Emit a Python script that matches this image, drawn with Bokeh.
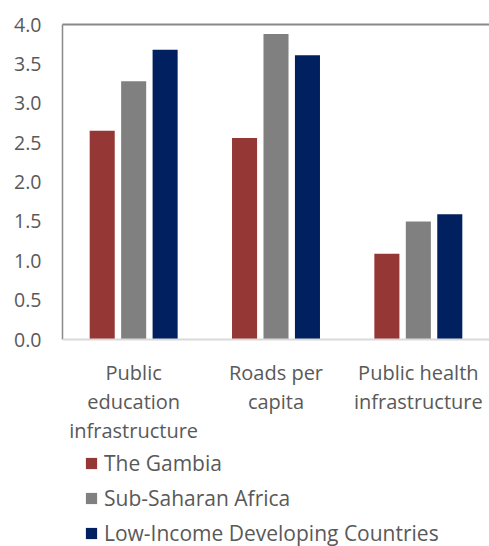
from bokeh.plotting import figure
from bokeh.models import (ColumnDataSource, Range1d, FactorRange, Legend, LegendItem,
                          CategoricalAxis, FixedTicker, NumeralTickFormatter, Span)
from bokeh.transform import dodge
from bokeh.core.properties import value
from bokeh.embed import file_html
from bokeh.resources import INLINE

categories = ["Public education infrastructure", "Roads per capita", "Public health infrastructure"]
category_lines = [["Public", "education", "infrastructure"], ["Roads per", "capita"], ["Public health", "infrastructure"]]
gambia = [2.65, 2.56, 1.09]
ssa = [3.28, 3.88, 1.50]
lidc = [3.68, 3.61, 1.59]
y_ticks = [0.0, 0.5, 1.0, 1.5, 2.0, 2.5, 3.0, 3.5, 4.0]
series_names = ["The Gambia", "Sub-Saharan Africa", "Low-Income Developing Countries"]
colors = ["#953735", "#808080", "#002060"]

FONT = "Open Sans"
TXT = "#595959"

W, H = 489, 546
TOP, LEFT = 24, 62
PLOT_H = 315            # pixel height of the 0..4 value band
px_per_unit = PLOT_H / 4.0
y_min = -(H - TOP - PLOT_H) / px_per_unit

src = ColumnDataSource(dict(cat=categories, g=gambia, s=ssa, l=lidc))

p = figure(width=W, height=H, x_range=FactorRange(*categories, range_padding=0),
           y_range=Range1d(y_min, 4), output_backend="svg", toolbar_location=None,
           x_axis_location=None,
           min_border_left=LEFT, min_border_right=0, min_border_top=TOP, min_border_bottom=0)
p.outline_line_color = None
p.grid.visible = False
p.background_fill_color = "white"

w = 0.176
off = 0.221
r1 = p.vbar(x=dodge("cat", -off, range=p.x_range), top="g", width=w, source=src, fill_color=colors[0], line_color=None)
r2 = p.vbar(x=dodge("cat", 0, range=p.x_range), top="s", width=w, source=src, fill_color=colors[1], line_color=None)
r3 = p.vbar(x=dodge("cat", off, range=p.x_range), top="l", width=w, source=src, fill_color=colors[2], line_color=None)

# y axis
ya = p.yaxis[0]
ya.ticker = FixedTicker(ticks=y_ticks)
ya.formatter = NumeralTickFormatter(format="0.0")
ya.bounds = (0, 4)
ya.major_tick_out = 0
ya.major_tick_in = 0
ya.minor_tick_out = 0
ya.minor_tick_in = 0
ya.major_label_standoff = 21
ya.axis_line_color = "#898989"
ya.axis_line_width = 1.5
ya.major_label_text_font = FONT
ya.major_label_text_font_size = "19.5px"
ya.major_label_text_color = TXT

# baseline (category axis line)
p.add_layout(Span(location=0, dimension="width", line_color="#d9d9d9", line_width=2))

# top border
ta = CategoricalAxis(axis_line_color="#898989", axis_line_width=2, major_tick_out=0, major_tick_in=0,
                     major_label_text_alpha=0, major_label_text_font_size="1px")
p.add_layout(ta, "above")

# category labels (multi-line)
lx, lyo, lt = [], [], []
for c, lines in zip(categories, category_lines):
    for i, t in enumerate(lines):
        lx.append(c)
        lyo.append(33 + 29 * i)
        lt.append(t)
lsrc = ColumnDataSource(dict(x=lx, y0=[0.0] * len(lx), yo=lyo, t=lt))
p.text(x="x", y="y0", y_offset="yo", text="t", source=lsrc, text_align="center",
       text_baseline="middle", text_font=value(FONT), text_font_size=value("20px"), text_color=TXT)

legend = Legend(items=[LegendItem(label=n, renderers=[r]) for n, r in zip(series_names, [r1, r2, r3])],
                location=(22, -1), orientation="vertical", padding=0, margin=0, spacing=7,
                glyph_width=14, glyph_height=14, label_standoff=6, label_height=20,
                label_text_font=FONT, label_text_font_size="21px", label_text_color=TXT,
                border_line_color=None, background_fill_alpha=0)
p.add_layout(legend, "center")

open("out.html", "w").write(file_html(p, INLINE))
